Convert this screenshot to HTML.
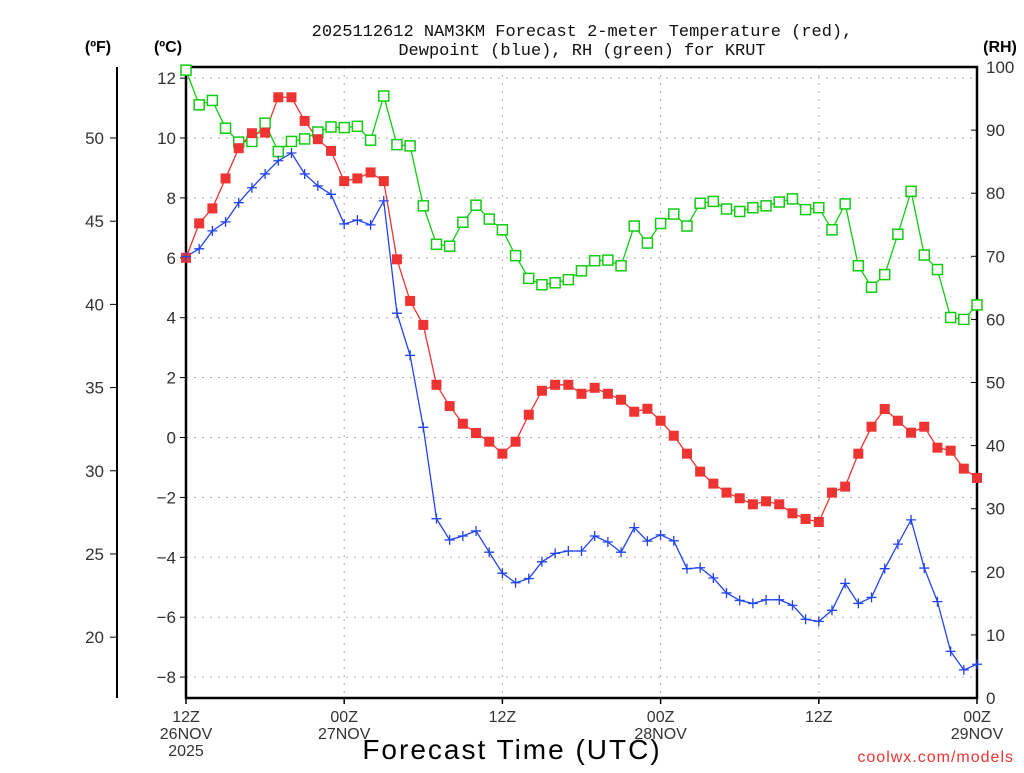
<!DOCTYPE html>
<html><head><meta charset="utf-8"><style>
body{margin:0;background:#fff;}
svg text{font-family:"Liberation Sans",sans-serif;}
</style></head><body>
<svg id="chart" width="1024" height="768" viewBox="0 0 1024 768" xmlns="http://www.w3.org/2000/svg">
<text x="582" y="36" text-anchor="middle" font-size="17" fill="#111" style="font-family:'Liberation Mono',monospace">2025112612 NAM3KM Forecast 2-meter Temperature (red),</text>
<text x="582" y="55" text-anchor="middle" font-size="17" fill="#111" style="font-family:'Liberation Mono',monospace">Dewpoint (blue), RH (green) for KRUT</text>
<text x="98" y="52" text-anchor="middle" font-size="16" font-weight="bold" fill="#000">(ºF)</text>
<text x="168" y="52" text-anchor="middle" font-size="16" font-weight="bold" fill="#000">(ºC)</text>
<text x="1000" y="52" text-anchor="middle" font-size="16" font-weight="bold" fill="#000">(RH)</text>
<g id="grid"></g><g id="axes"></g><g id="series"></g>
<text x="512" y="759" text-anchor="middle" font-size="28" fill="#000" letter-spacing="2">Forecast Time (UTC)</text>
<text x="1014" y="762" text-anchor="end" font-size="16" fill="#e33" letter-spacing="1">coolwx.com/models</text>
</svg>
<script>
const tempC=[6.0,7.15,7.65,8.65,9.66,10.16,10.18,11.36,11.36,10.57,9.96,9.57,8.56,8.65,8.85,8.56,5.95,4.56,3.76,1.76,1.05,0.46,0.15,-0.14,-0.54,-0.14,0.76,1.56,1.76,1.76,1.46,1.66,1.46,1.26,0.86,0.96,0.56,0.06,-0.54,-1.14,-1.54,-1.84,-2.03,-2.23,-2.13,-2.23,-2.53,-2.72,-2.82,-1.84,-1.64,-0.54,0.36,0.95,0.56,0.16,0.36,-0.34,-0.44,-1.04,-1.35];
const dewC=[6.04,6.3,6.9,7.2,7.84,8.34,8.8,9.24,9.5,8.8,8.4,8.12,7.13,7.26,7.1,7.9,4.15,2.74,0.34,-2.71,-3.42,-3.29,-3.12,-3.83,-4.53,-4.85,-4.71,-4.15,-3.87,-3.79,-3.79,-3.29,-3.49,-3.83,-3.01,-3.46,-3.25,-3.45,-4.38,-4.35,-4.69,-5.19,-5.44,-5.54,-5.42,-5.42,-5.6,-6.07,-6.14,-5.77,-4.87,-5.54,-5.34,-4.38,-3.56,-2.75,-4.36,-5.48,-7.14,-7.76,-7.57];
const rh=[99.5,94,94.7,90.3,88.1,88.2,91.1,86.6,88.2,88.6,89.7,90.5,90.4,90.6,88.4,95.4,87.7,87.5,78,71.9,71.6,75.4,78.1,75.9,74.2,70.1,66.5,65.5,65.8,66.3,67.7,69.3,69.4,68.5,74.8,72.1,75.2,76.7,74.8,78.4,78.7,77.5,77.1,77.7,78,78.6,79.1,77.4,77.7,74.2,78.3,68.5,65.1,67.1,73.5,80.3,70.2,67.9,60.3,60,62.3];
const celsiusTicks=[12,10,8,6,4,2,0,-2,-4,-6,-8];
const fahrenheitTicks=[50,45,40,35,30,25,20];
const rhTicks=[100,90,80,70,60,50,40,30,20,10,0];
const xLabels=[["12Z","26NOV","2025"],["00Z","27NOV"],["12Z"],["00Z","28NOV"],["12Z"],["00Z","29NOV"]];
const X0=186,X1=977,Y0=67,Y1=698;
const xs=i=>X0+i*(X1-X0)/60;
const yC=c=>437.5-c*29.95;
const yF=f=>yC((f-32)*5/9);
const yR=r=>Y1-r*(Y1-Y0)/100;
const NS="http://www.w3.org/2000/svg";
function mk(parent,tag,attrs){const e=document.createElementNS(NS,tag);for(const k in attrs)e.setAttribute(k,attrs[k]);document.getElementById(parent).appendChild(e);return e;}
celsiusTicks.forEach(c=>{const l=mk('grid','line',{x1:X0,x2:X1,y1:yC(c),y2:yC(c),stroke:'#aaa','stroke-dasharray':'2,6'});

});
xLabels.forEach((lab,k)=>{const x=X0+k*(X1-X0)/5;
if(k>0&&k<5){const l=mk('grid','line',{x1:x,x2:x,y1:Y0,y2:Y1,stroke:'#aaa','stroke-dasharray':'2,6'});

}
const t=mk('axes','line',{x1:x,x2:x,y1:Y1,y2:Y1+6,stroke:'#000','stroke-width':1.5});


lab.forEach((s,j)=>{const tx=mk('axes','text',{x:x,y:722+j*17,'text-anchor':'middle','font-size':16,fill:'#333'});tx.textContent=s;

});});
const fr=mk('axes','rect',{x:X0,y:Y0,width:X1-X0,height:Y1-Y0,fill:'none',stroke:'#000','stroke-width':2.5});


const fl=mk('axes','line',{x1:117,x2:117,y1:Y0,y2:Y1,stroke:'#000','stroke-width':2});


celsiusTicks.forEach(c=>{const y=yC(c);
const t=mk('axes','line',{x1:X0-6,x2:X0,y1:y,y2:y,stroke:'#000'});


const tx=mk('axes','text',{x:176,y:y+6,'text-anchor':'end','font-size':17,fill:'#333'});tx.textContent=c<0?'\u2212'+(-c):c;

});
fahrenheitTicks.forEach(f=>{const y=yF(f);
const t=mk('axes','line',{x1:110,x2:117,y1:y,y2:y,stroke:'#000'});


const tx=mk('axes','text',{x:104,y:y+6,'text-anchor':'end','font-size':17,fill:'#333'});tx.textContent=f;

});
rhTicks.forEach(r=>{const y=yR(r);
const t=mk('axes','line',{x1:X1-6,x2:X1,y1:y,y2:y,stroke:'#000'});


const tx=mk('axes','text',{x:986,y:y+6,'text-anchor':'start','font-size':17,fill:'#333'});tx.textContent=r;

});
function line(vals,fy,color,name){const p=mk('series','polyline',{points:vals.map((v,i)=>xs(i)+','+fy(v)).join(' '),fill:'none',stroke:color,'stroke-width':1.3});

}
line(rh,yR,'#11cc11','rh-line');
line(tempC,yC,'#ee3333','temperature-line');
line(dewC,yC,'#2244ee','dewpoint-line');
rh.forEach((v,i)=>{const m=mk('series','rect',{x:xs(i)-5,y:yR(v)-5,width:10,height:10,fill:'#fff',stroke:'#11cc11','stroke-width':1.5});

});
tempC.forEach((v,i)=>{const m=mk('series','rect',{x:xs(i)-5,y:yC(v)-5,width:10,height:10,fill:'#ee3333'});

});
dewC.forEach((v,i)=>{const x=xs(i),y=yC(v);const m=mk('series','path',{d:`M${x-5},${y}H${x+5}M${x},${y-5}V${y+5}`,stroke:'#2244ee','stroke-width':1.3});

});
</script>
</body></html>
